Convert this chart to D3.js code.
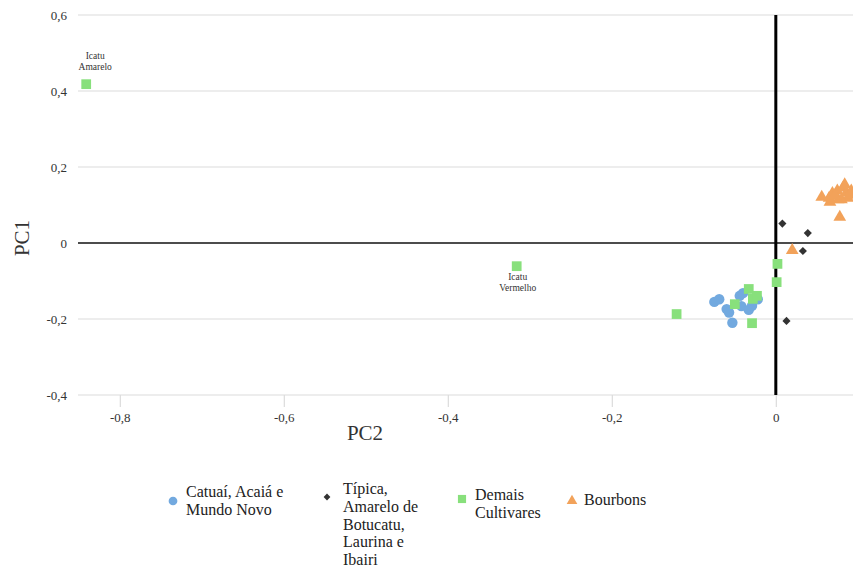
<!DOCTYPE html>
<html>
<head>
<meta charset="utf-8">
<script src="https://cdn.jsdelivr.net/npm/d3@7"></script>
<style>
  html, body { margin: 0; padding: 0; background: #fff; }
  svg { display: block; }
</style>
</head>
<body>
<svg id="chart" width="853" height="569"></svg>
<script>
// PCA scores (PC2 on x, PC1 on y) for each cultivar group
const catuai = [
  [-0.075, -0.155], [-0.069, -0.148], [-0.060, -0.174], [-0.057, -0.183],
  [-0.053, -0.210], [-0.044, -0.139], [-0.040, -0.132], [-0.042, -0.166],
  [-0.033, -0.176], [-0.029, -0.165], [-0.022, -0.148]
];
const tipica = [
  [0.008, 0.051], [0.039, 0.026], [0.033, -0.021], [0.013, -0.205]
];
const demais = [
  [-0.841, 0.418], [-0.316, -0.061], [-0.121, -0.187], [-0.050, -0.161],
  [-0.033, -0.121], [-0.028, -0.147], [-0.023, -0.139], [-0.029, -0.211],
  [0.002, -0.055], [0.001, -0.103]
];
const bourbons = [
  [0.020, -0.019], [0.056, 0.121], [0.065, 0.118], [0.069, 0.131],
  [0.066, 0.108], [0.075, 0.137], [0.076, 0.114], [0.082, 0.145],
  [0.084, 0.154], [0.086, 0.132], [0.088, 0.118], [0.080, 0.114],
  [0.072, 0.125], [0.078, 0.068], [0.092, 0.137], [0.090, 0.126]
];
const pointLabels = [
  { at: [-0.841, 0.418], lines: ["Icatu", "Amarelo"], pos: "above" },
  { at: [-0.316, -0.061], lines: ["Icatu", "Vermelho"], pos: "below" }
];
const xTicks = [-0.8, -0.6, -0.4, -0.2, 0];
const yTicks = [-0.4, -0.2, 0, 0.2, 0.4, 0.6];
const seriesNames = [
  ["Catuaí, Acaiá e", "Mundo Novo"],
  ["Típica,", "Amarelo de", "Botucatu,", "Laurina e", "Ibairi"],
  ["Demais", "Cultivares"],
  ["Bourbons"]
];

const FONT = "Liberation Serif, Times New Roman, serif";
const colors = ["#72a9df", "#333333", "#88e07c", "#f2a25a"];
const symbols = [d3.symbolCircle, d3.symbolDiamond2, d3.symbolSquare, d3.symbolTriangle];
const symSizes = [85, 42, 95, 70];
const series = [catuai, tipica, demais, bourbons];

const svg = d3.select("#chart").attr("font-family", FONT);
const fmt = v => v === 0 ? "0" : d3.format(".1f")(v).replace(".", ",").replace("−", "-");

const x = d3.scaleLinear().domain([-0.851, 0.1]).range([78, 78 + 0.951 * 820]);
const y = d3.scaleLinear().domain([-0.4, 0.6]).range([395, 15]);
const xRight = 853;

// horizontal grid lines
svg.append("g").selectAll("line").data(yTicks.filter(v => v !== 0)).join("line")
  .attr("x1", x.range()[0]).attr("x2", xRight)
  .attr("y1", d => y(d)).attr("y2", d => y(d))
  .attr("stroke", "#dcdcdc").attr("stroke-width", 1.2);

// y axis labels
svg.append("g").selectAll("text").data(yTicks).join("text")
  .attr("font-family", FONT)
  .attr("x", 67).attr("y", d => y(d)).attr("dy", "0.35em")
  .attr("text-anchor", "end").attr("font-size", 13).attr("fill", "#333")
  .text(fmt);

// x axis ticks and labels
const xAxis = d3.axisBottom(x).tickValues(xTicks).tickSize(12).tickPadding(6).tickFormat(fmt);
const gx = svg.append("g").attr("transform", `translate(0,${y(-0.4)})`).call(xAxis)
  .attr("font-family", FONT);
gx.select(".domain").remove();
gx.selectAll(".tick line").attr("stroke", "#dcdcdc").attr("stroke-width", 1.2);
gx.selectAll(".tick text").attr("font-size", 13).attr("fill", "#333")
  .attr("font-family", FONT);

// zero lines
svg.append("line")
  .attr("x1", x.range()[0]).attr("x2", xRight)
  .attr("y1", y(0)).attr("y2", y(0))
  .attr("stroke", "#111").attr("stroke-width", 1.6);
svg.append("line")
  .attr("x1", x(0)).attr("x2", x(0))
  .attr("y1", y(0.6)).attr("y2", y(-0.4))
  .attr("stroke", "#000").attr("stroke-width", 3);

// axis titles
svg.append("text").attr("x", 365).attr("y", 440).attr("text-anchor", "middle")
  .attr("font-family", FONT)
  .attr("font-size", 21).attr("fill", "#333").text("PC2");
svg.append("text").attr("transform", "translate(29,238) rotate(-90)")
  .attr("font-family", FONT)
  .attr("text-anchor", "middle").attr("font-size", 21).attr("fill", "#333").text("PC1");

// points
series.forEach((pts, i) => {
  const sym = d3.symbol().type(symbols[i]).size(symSizes[i]);
  svg.append("g").selectAll("path").data(pts).join("path")
    .attr("transform", d => `translate(${x(d[0])},${y(d[1])})`)
    .attr("d", sym)
    .attr("fill", colors[i]);
});

// point annotations
pointLabels.forEach(p => {
  const cx = p.pos === "above" ? x(p.at[0]) + 9 : x(p.at[0]) + 1;
  const top = p.pos === "above" ? y(p.at[1]) - 25 : y(p.at[1]) + 14;
  const t = svg.append("text").attr("font-family", FONT)
    .attr("font-size", 9.5).attr("fill", "#333").attr("text-anchor", "middle");
  p.lines.forEach((ln, k) => {
    t.append("tspan").attr("x", cx).attr("y", top + k * 11).text(ln);
  });
});

// legend
const legendX = [173, 327, 462, 572];
const legendTextX = [186, 343, 475, 584];
const legendMarkY = [501, 497, 499, 501];
seriesNames.forEach((lines, i) => {
  const sym = d3.symbol().type(symbols[i]).size(symSizes[i] * 0.7);
  svg.append("path").attr("transform", `translate(${legendX[i]},${legendMarkY[i]})`)
    .attr("d", sym).attr("fill", colors[i]);
  const t = svg.append("text").attr("font-family", FONT).attr("font-size", 16).attr("fill", "#222");
  const base = lines.length === 1 ? 505 : (i === 1 ? 494 : (i === 2 ? 500 : 497));
  lines.forEach((ln, k) => {
    t.append("tspan").attr("x", legendTextX[i]).attr("y", base + k * 17.8).text(ln);
  });
});
</script>
</body>
</html>
